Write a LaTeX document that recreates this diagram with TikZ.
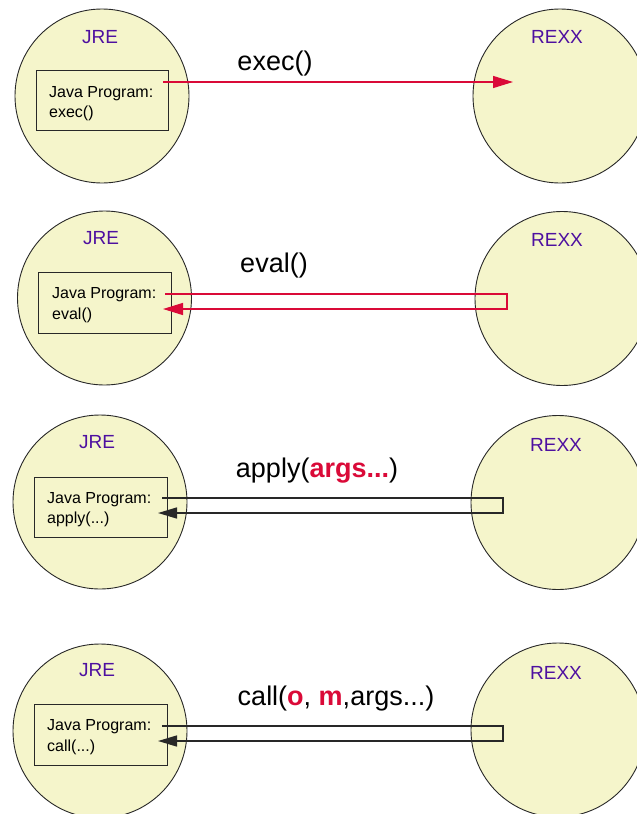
\documentclass[tikz,border=0pt]{standalone}
\usepackage{fontspec}
\setmainfont{Liberation Sans}
\usetikzlibrary{arrows.meta}
\definecolor{envfill}{RGB}{245,245,203}
\definecolor{envtext}{RGB}{78,16,160}
\definecolor{callred}{RGB}{218,10,56}
\definecolor{edgegray}{RGB}{40,40,40}
\tikzset{
  env/.style={circle, draw=edgegray, line width=0.9pt, fill=envfill, minimum size=174pt, inner sep=0pt},
  envlabel/.style={anchor=base, text=envtext, font=\fontsize{19}{22}\selectfont, inner sep=0pt},
  progbox/.style={draw=edgegray, line width=1pt, anchor=north west, inner sep=0pt},
  progtext/.style={anchor=base west, font=\fontsize{16}{21}\selectfont, inner sep=0pt},
  calllabel/.style={anchor=base, font=\fontsize{27}{30}\selectfont, inner sep=0pt},
  redflow/.style={draw=callred, line width=1.3pt, -{Triangle[length=20pt,width=12pt]}},
  blackflow/.style={draw=edgegray, line width=1.5pt, -{Triangle[length=19pt,width=11pt]}},
}
\newcommand{\hl}[1]{\textcolor{callred}{\textbf{#1}}}
\begin{document}
\begin{tikzpicture}[x=1pt,y=-1pt]
\useasboundingbox (0,0) rectangle (637,814);
\clip (0,0) rectangle (637,814);

% ---------- Panel 1: exec ----------
\node[env] (jre1) at (102,96) {};
\node[env] (rexx1) at (560,96) {};
\node[envlabel] (jrel1) at (100,43) {JRE};
\node[envlabel] (rexxl1) at (557,43) {REXX};
\node[progbox, minimum width=132pt, minimum height=60pt] (box1) at (36,70) {};
\node[progtext] (t1a) at (49,97) {Java Program:};
\node[progtext] (t1b) at (49,117) {exec()};
\node[calllabel] (lab1) at (275,70) {exec()};
\coordinate (s1) at (163,82);
\coordinate (e1) at (513,82);
\draw[redflow] (s1) -- (e1);

% ---------- Panel 2: eval ----------
\node[env] (jre2) at (104.5,298) {};
\node[env] (rexx2) at (562,298.5) {};
\node[envlabel] (jrel2) at (101,244) {JRE};
\node[envlabel] (rexxl2) at (557,246) {REXX};
\node[progbox, minimum width=133pt, minimum height=61pt] (box2) at (38,272) {};
\node[progtext] (t2a) at (52,298) {Java Program:};
\node[progtext] (t2b) at (52,319) {eval()};
\node[calllabel] (lab2) at (274,272) {eval()};
\coordinate (s2) at (165,294);
\coordinate (c2a) at (507,294);
\coordinate (c2b) at (507,309);
\coordinate (e2) at (163,309);
\draw[redflow] (s2) -- (c2a) -- (c2b) -- (e2);

% ---------- Panel 3: apply ----------
\node[env] (jre3) at (100,502) {};
\node[env] (rexx3) at (558,502.5) {};
\node[envlabel] (jrel3) at (97,448) {JRE};
\node[envlabel] (rexxl3) at (556,451) {REXX};
\node[progbox, minimum width=133pt, minimum height=60pt] (box3) at (34,477) {};
\node[progtext] (t3a) at (47,503) {Java Program:};
\node[progtext] (t3b) at (47,523) {apply(...)};
\node[calllabel] (lab3) at (317,477) {apply(\hl{args...})};
\coordinate (s3) at (162,498);
\coordinate (c3a) at (503,498);
\coordinate (c3b) at (503,513);
\coordinate (e3) at (158,513);
\draw[blackflow] (s3) -- (c3a) -- (c3b) -- (e3);

% ---------- Panel 4: call ----------
\node[env] (jre4) at (100,731) {};
\node[env] (rexx4) at (558,730) {};
\node[envlabel] (jrel4) at (97,676) {JRE};
\node[envlabel] (rexxl4) at (556,679) {REXX};
\node[progbox, minimum width=133pt, minimum height=61pt] (box4) at (34,704) {};
\node[progtext] (t4a) at (47,730) {Java Program:};
\node[progtext] (t4b) at (47,751) {call(...)};
\node[calllabel] (lab4) at (336,705) {call(\hl{o}, \hl{m},args...)};
\coordinate (s4) at (162,726);
\coordinate (c4a) at (503,726);
\coordinate (c4b) at (503,741);
\coordinate (e4) at (158,741);
\draw[blackflow] (s4) -- (c4a) -- (c4b) -- (e4);
\end{tikzpicture}
\end{document}
